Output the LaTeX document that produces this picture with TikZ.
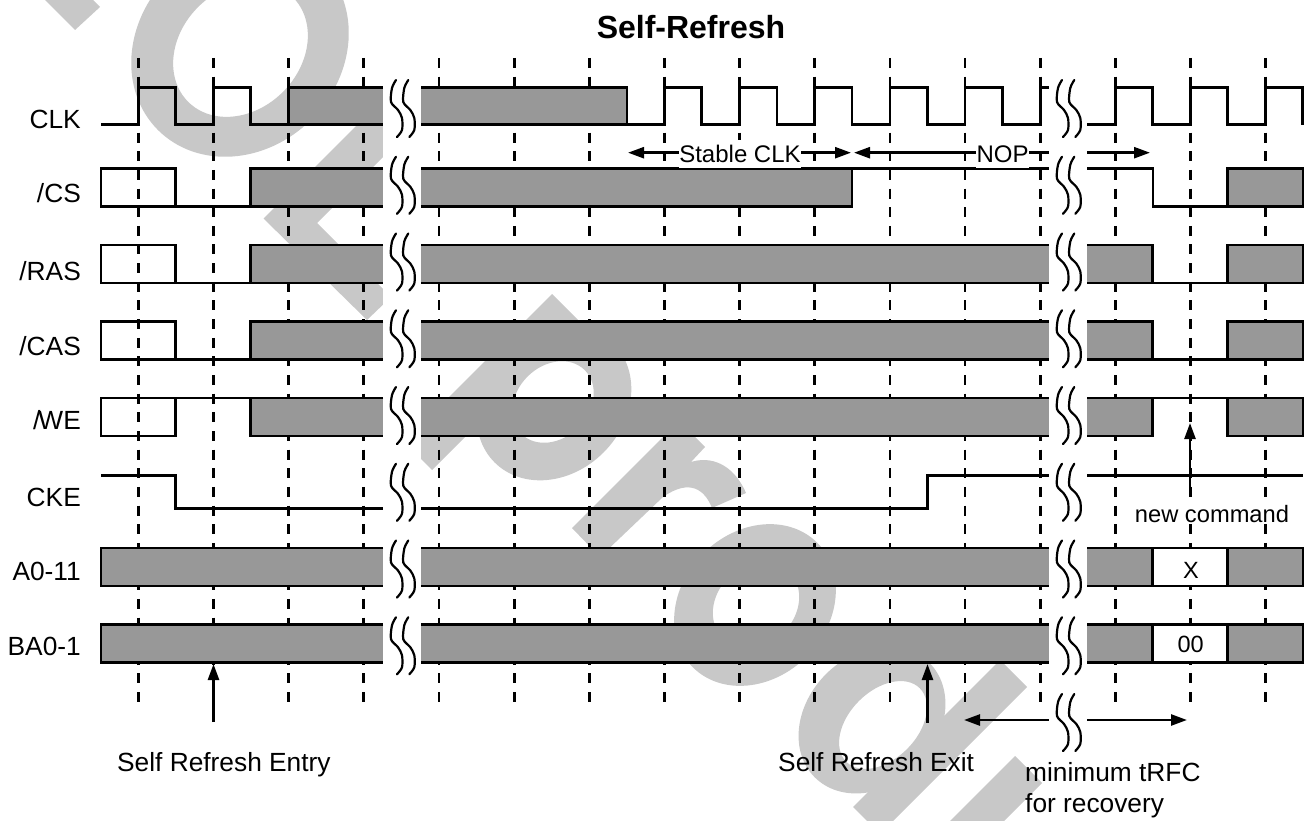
\documentclass[tikz,border=0pt]{standalone}
\usepackage{fontspec}
\setmainfont{Liberation Sans}
\usetikzlibrary{arrows.meta}
\definecolor{wmgrey}{HTML}{C8C8C8}
\definecolor{busgrey}{HTML}{989898}
\tikzset{
  wm/.style={fill=wmgrey,draw=none},
  sig/.style={draw=black,line width=2.8pt,line join=miter},
  bus/.style={fill=busgrey,draw=none},
  tick/.style={draw=black,line width=2.8pt,dash pattern=on 10pt off 8.65pt},
  wave/.style={draw=black,line width=2.2pt,line cap=round},
  lab/.style={font=\fontsize{26.3}{30}\selectfont,inner sep=0pt,text=black},
  smalllab/.style={font=\fontsize{24}{28}\selectfont,inner sep=0pt,text=black},
  siglab/.style={lab,anchor=base east},
  freelab/.style={lab,anchor=base west},
  mid/.style={font=\fontsize{23.5}{28}\selectfont,inner sep=0pt,text=black,anchor=base},
  maskbox/.style={smalllab,fill=white,minimum height=28pt},
  cmdbox/.style={font=\fontsize{23.7}{28}\selectfont,inner sep=0pt,text=black,fill=white,minimum height=20pt,minimum width=154pt},
  arr/.style={draw=black,line width=2.5pt},
  tip/.style={arrows={-Triangle[length=16pt,width=11pt]}},
  tipboth/.style={arrows={Triangle[length=16pt,width=11pt]-Triangle[length=16pt,width=11pt]}},
  tipback/.style={arrows={Triangle[length=16pt,width=11pt]-}}
}
\begin{document}
\begin{tikzpicture}[x=1pt,y=-1pt]
\useasboundingbox (0,0) rectangle (1312,821);
\fill[white] (0,0) rectangle (1312,821);
% watermark
\begin{scope}
\clip (0,0) rectangle (1312,821);
\fill[wm] (45,0) -- (75,30) -- (100,7) -- (93,0) -- cycle;
\fill[wm,even odd rule] (240,48) circle[x radius=116pt,y radius=101pt,rotate=45]
   (240.5,49.5) circle[x radius=74pt,y radius=60pt,rotate=45];
\fill[wm] (263.5,218.5) -- (370,112) -- (399,141) -- (317,223) -- (391,297) -- (367,320) -- cycle;
\fill[wm] (404,442) -- (552,294) -- (580,322) -- (432,470) -- cycle;
\fill[wm,even odd rule] (554,403) circle[x radius=84pt,y radius=70pt,rotate=45]
   (553,402) circle[x radius=45pt,y radius=36pt,rotate=45];
\fill[wm] (572,528) -- (679,421) -- (705,447) -- (691,462)
   .. controls (710,456) and (733,463) .. (746,493) -- (712,508)
   .. controls (705,490) and (690,478) .. (663,497) -- (600,557) -- cycle;
\fill[wm,even odd rule] (755,605) circle[x radius=88pt,y radius=73pt,rotate=45]
   (756,605) circle[x radius=47pt,y radius=39pt,rotate=45];
\fill[wm,even odd rule] (872,720) circle[x radius=81pt,y radius=65pt,rotate=45]
   (883,725) circle[x radius=52pt,y radius=34pt,rotate=45];
\fill[wm] (1000,660) -- (1027,687) -- (893,821) -- (867,821) -- (853,807) -- cycle;
\fill[wm] (1015,756) -- (1042,783) -- (1004,821) -- (950,821) -- cycle;
\end{scope}
% break bands
\fill[white] (383,60) rectangle (421,760);
\fill[white] (1049,60) rectangle (1087,760);
% clock ticks
\foreach \xx in {138.4,213.55,288.7,363.85,439,514.15,589.3,664.45,739.6,814.75,889.9,965.05,1040.2,1115.35,1190.5,1265.65}
  \draw[tick] (\xx,58) -- (\xx,702);
% CLK
\fill[bus] (288.7,87.7) rectangle (383,124.7);
\fill[bus] (421,87.7) rectangle (627,124.7);
\draw[sig] (101,124.7) -- (138.4,124.7) -- (138.4,87.7) -- (175.5,87.7) -- (175.5,124.7) -- (213.5,124.7) -- (213.5,87.7) -- (250.5,87.7) -- (250.5,124.7) -- (288.7,124.7) -- (288.7,87.7) -- (383,87.7);
\draw[sig] (288.7,124.7) -- (383,124.7);
\draw[sig] (421,87.7) -- (627,87.7) -- (627,124.7) -- (664.45,124.7) -- (664.45,87.7) -- (701.8,87.7) -- (701.8,124.7) -- (739.6,124.7) -- (739.6,87.7) -- (777,87.7) -- (777,124.7) -- (814.75,124.7) -- (814.75,87.7) -- (852,87.7) -- (852,124.7) -- (889.9,124.7) -- (889.9,87.7) -- (927.3,87.7) -- (927.3,124.7) -- (965.05,124.7) -- (965.05,87.7) -- (1002.5,87.7) -- (1002.5,124.7) -- (1040.2,124.7) -- (1040.2,87.7) -- (1049,87.7);
\draw[sig] (421,124.7) -- (627,124.7);
\draw[sig] (1087,124.7) -- (1115.35,124.7) -- (1115.35,87.7) -- (1152.5,87.7) -- (1152.5,124.7) -- (1190.5,124.7) -- (1190.5,87.7) -- (1227.5,87.7) -- (1227.5,124.7) -- (1265.65,124.7) -- (1265.65,87.7) -- (1302.5,87.7) -- (1302.5,124.7);
% /CS
\fill[bus] (250.5,168.5) rectangle (383,206.5);
\fill[bus] (421,168.5) rectangle (852,206.5);
\fill[bus] (1227.5,168.5) rectangle (1303,206.5);
\draw[sig] (383,168.5) -- (250.5,168.5) -- (250.5,206.5) -- (175.5,206.5) -- (175.5,168.5) -- (101,168.5) -- (101,206.5) -- (175.5,206.5);
\draw[sig] (250.5,206.5) -- (383,206.5);
\draw[sig] (421,168.5) -- (1049,168.5);
\draw[sig] (421,206.5) -- (852,206.5) -- (852,168.5);
\draw[sig] (1087,168.5) -- (1153,168.5) -- (1153,206.5) -- (1227.5,206.5) -- (1227.5,168.5) -- (1303,168.5) -- (1303,206.5) -- (1227.5,206.5);
% /RAS
\fill[bus] (250.5,245) rectangle (383,283);
\fill[bus] (421,245) rectangle (1049,283);
\fill[bus] (1087,245) rectangle (1152.5,283);
\fill[bus] (1227.5,245) rectangle (1303,283);
\draw[sig] (383,245) -- (250.5,245) -- (250.5,283) -- (175.5,283) -- (175.5,245) -- (101,245) -- (101,283) -- (175.5,283);
\draw[sig] (250.5,283) -- (383,283);
\draw[sig] (421,245) -- (1049,245);
\draw[sig] (421,283) -- (1049,283);
\draw[sig] (1087,245) -- (1152.5,245) -- (1152.5,283) -- (1087,283);
\draw[sig] (1152.5,283) -- (1227.5,283) -- (1227.5,245) -- (1303,245) -- (1303,283) -- (1227.5,283);
% /CAS
\fill[bus] (250.5,321.5) rectangle (383,359.5);
\fill[bus] (421,321.5) rectangle (1049,359.5);
\fill[bus] (1087,321.5) rectangle (1152.5,359.5);
\fill[bus] (1227.5,321.5) rectangle (1303,359.5);
\draw[sig] (383,321.5) -- (250.5,321.5) -- (250.5,359.5) -- (175.5,359.5) -- (175.5,321.5) -- (101,321.5) -- (101,359.5) -- (175.5,359.5);
\draw[sig] (250.5,359.5) -- (383,359.5);
\draw[sig] (421,321.5) -- (1049,321.5);
\draw[sig] (421,359.5) -- (1049,359.5);
\draw[sig] (1087,321.5) -- (1152.5,321.5) -- (1152.5,359.5) -- (1087,359.5);
\draw[sig] (1152.5,359.5) -- (1227.5,359.5) -- (1227.5,321.5) -- (1303,321.5) -- (1303,359.5) -- (1227.5,359.5);
% /WE
\fill[bus] (250.5,398) rectangle (383,436);
\fill[bus] (421,398) rectangle (1049,436);
\fill[bus] (1087,398) rectangle (1152.5,436);
\fill[bus] (1227.5,398) rectangle (1303,436);
\draw[sig] (383,398) -- (101,398) -- (101,436) -- (175.5,436) -- (175.5,398);
\draw[sig] (250.5,398) -- (250.5,436) -- (383,436);
\draw[sig] (421,398) -- (1049,398);
\draw[sig] (421,436) -- (1049,436);
\draw[sig] (1087,398) -- (1303,398) -- (1303,436) -- (1227.5,436) -- (1227.5,398);
\draw[sig] (1087,436) -- (1152.5,436) -- (1152.5,398);
% CKE
\draw[sig] (101,475.3) -- (175.5,475.3) -- (175.5,508.7) -- (383,508.7);
\draw[sig] (421,508.7) -- (927.3,508.7) -- (927.3,475.3) -- (1049,475.3);
\draw[sig] (1087,475.3) -- (1303,475.3);
% A0-11
\fill[bus] (101,548) rectangle (383,586);
\fill[bus] (421,548) rectangle (1049,586);
\fill[bus] (1087,548) rectangle (1152.5,586);
\fill[white] (1152.5,548) rectangle (1227.5,586);
\fill[bus] (1227.5,548) rectangle (1303,586);
\draw[sig] (383,548) -- (101,548) -- (101,586) -- (383,586);
\draw[sig] (421,548) -- (1049,548);
\draw[sig] (421,586) -- (1049,586);
\draw[sig] (1087,548) -- (1303,548) -- (1303,586) -- (1087,586);
\draw[sig] (1152.5,548) -- (1152.5,586);
\draw[sig] (1227.5,548) -- (1227.5,586);
% BA0-1
\fill[bus] (101,624.3) rectangle (383,662.5);
\fill[bus] (421,624.3) rectangle (1049,662.5);
\fill[bus] (1087,624.3) rectangle (1152.5,662.5);
\fill[white] (1152.5,624.3) rectangle (1227.5,662.5);
\fill[bus] (1227.5,624.3) rectangle (1303,662.5);
\draw[sig] (383,624.3) -- (101,624.3) -- (101,662.5) -- (383,662.5);
\draw[sig] (421,624.3) -- (1049,624.3);
\draw[sig] (421,662.5) -- (1049,662.5);
\draw[sig] (1087,624.3) -- (1303,624.3) -- (1303,662.5) -- (1087,662.5);
\draw[sig] (1152.5,624.3) -- (1152.5,662.5);
\draw[sig] (1227.5,624.3) -- (1227.5,662.5);
% break waves
\foreach \yy in {80,156.75,233.5,310.25,387,463.75,540.5,617.25}
  \foreach \xx in {396,408.3,1062,1074.3}
    \draw[wave,shift={(\xx,\yy)}] plot[smooth,tension=.5] coordinates {(0,0) (-4,8) (-5,22) (2,30) (6,38) (6,50) (1,57)};
\foreach \xx in {1062,1074.3}
    \draw[wave,shift={(\xx,694)}] plot[smooth,tension=.5] coordinates {(0,0) (-4,8) (-5,22) (2,30) (6,38) (6,50) (1,57)};
% arrow ends
\coordinate (stableL) at (628,152.7);
\coordinate (stableR) at (851,152.7);
\coordinate (nopL) at (854,152.7);
\coordinate (nopM) at (1049,152.7);
\coordinate (nopN) at (1087,152.7);
\coordinate (nopR) at (1150,152.7);
\coordinate (cmdTail) at (1190,487);
\coordinate (cmdTip) at (1190,423);
\coordinate (entryTail) at (213.5,722);
\coordinate (entryTip) at (213.5,664);
\coordinate (exitTail) at (927.5,722.5);
\coordinate (exitTip) at (927.5,664);
\coordinate (rfcL) at (964,720);
\coordinate (rfcM) at (1049,720);
\coordinate (rfcN) at (1087,720);
\coordinate (rfcR) at (1187,720);
\draw[arr,tipboth] (stableL) -- (stableR);
\draw[arr,tipback] (nopL) -- (nopM);
\draw[arr,tip] (nopN) -- (nopR);
\draw[arr,tip] (cmdTail) -- (cmdTip);
\draw[arr,tip] (entryTail) -- (entryTip);
\draw[arr,tip] (exitTail) -- (exitTip);
\draw[arr,tipback] (rfcL) -- (rfcM);
\draw[arr,tip] (rfcN) -- (rfcR);
% texts
\node[maskbox,minimum width=122pt] (stableText) at (740,154) {Stable CLK};
\node[maskbox,minimum width=53pt] (nopText) at (1002.5,154) {NOP};
\node[anchor=base,font=\fontsize{32}{36}\selectfont\bfseries,inner sep=0pt] (title) at (691,39) {Self-Refresh};
\node[siglab] (lclk) at (81,129) {CLK};
\node[siglab] (lcs) at (81,203) {/CS};
\node[siglab] (lras) at (81,280.5) {/RAS};
\node[siglab] (lcas) at (81,355) {/CAS};
\node[siglab] (lwe) at (81,429.3) {/\kern-2pt WE};
\node[siglab] (lcke) at (81,506.3) {CKE};
\node[siglab] (la) at (81,580.7) {A0-11};
\node[siglab] (lba) at (81,655.7) {BA0-1};
\node[mid] (tx) at (1191,578.3) {X};
\node[mid] (t00) at (1190.7,652.7) {00};
\node[cmdbox] (newcmd) at (1212,514) {new command};
\node[freelab] (entry) at (117,771.7) {Self Refresh Entry};
\node[freelab] (exit) at (778,771.7) {Self Refresh Exit};
\node[freelab] (rfc1) at (1025,781.7) {minimum tRFC};
\node[freelab] (rfc2) at (1025,812) {for recovery};
\end{tikzpicture}
\end{document}
